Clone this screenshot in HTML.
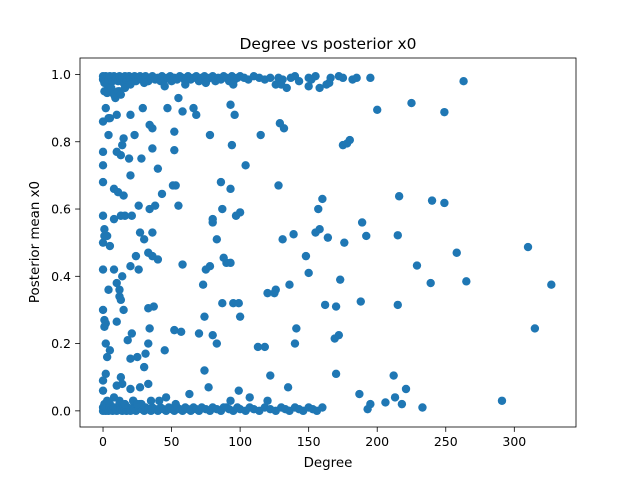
<!DOCTYPE html>
<html><head><meta charset="utf-8"><style>
body{margin:0;background:#fff}
svg{display:block;font-family:"DejaVu Sans","Liberation Sans",sans-serif}
</style></head><body>
<svg id="chart" width="640" height="480">
<rect width="640" height="480" fill="#fff"/>
<text x="328" y="49" text-anchor="middle" font-size="15.5">Degree vs posterior x0</text>
<text x="328" y="467" text-anchor="middle" font-size="13.4">Degree</text>
<text x="0" y="0" transform="translate(39,242) rotate(-90)" text-anchor="middle" font-size="13.4">Posterior mean x0</text>
<g id="pts"></g>
<g id="axes"></g>
</svg>
<script>
const xTicks=[0,50,100,150,200,250,300];
const yTicks=[0.0,0.2,0.4,0.6,0.8,1.0];
const yTickLabels=["0.0","0.2","0.4","0.6","0.8","1.0"];
const topX=[0,0,1,1,2,2,3,3,4,5,5,6,7,8,9,10,11,12,13,14,15,16,17,18,19,20,22,23,24,26,27,28,30,31,33,35,36,38,40,42,43,45,47,49,50,52,54,56,58,60,62,64,66,68,70,72,74,76,78,80,82,84,86,88,90,92,94,96,98,100,103,106,110,114,118,122,126,128,131,134,137,140,143,150,152,155,158,163,166,172,175,182,185,195,1,3,6,9,12,16,20,30,45,60,75,95,130,150,165,8,11,13];
const topY=[0.995,0.985,0.99,0.975,0.995,0.98,0.99,0.97,0.985,0.995,0.96,0.99,0.98,0.995,0.985,0.99,0.98,0.995,0.985,0.99,0.975,0.995,0.985,0.99,0.995,0.985,0.99,0.995,0.98,0.99,0.995,0.985,0.99,0.995,0.98,0.99,0.995,0.985,0.99,0.98,0.995,0.985,0.99,0.995,0.98,0.99,0.985,0.995,0.99,0.98,0.995,0.985,0.99,0.995,0.98,0.99,0.995,0.985,0.99,0.995,0.98,0.99,0.985,0.995,0.99,0.98,0.995,0.985,0.99,0.995,0.99,0.985,0.995,0.99,0.985,0.99,0.97,0.99,0.985,0.96,0.99,0.995,0.98,0.99,0.985,0.995,0.96,0.97,0.99,0.995,0.99,0.985,0.99,0.99,0.95,0.945,0.96,0.93,0.95,0.96,0.97,0.975,0.965,0.97,0.975,0.97,0.97,0.965,0.975,0.94,0.95,0.94];
const botX=[0,0,1,1,2,2,3,4,5,5,6,7,8,9,10,11,12,13,14,15,16,17,18,19,20,22,23,24,26,27,28,30,31,33,35,36,38,40,42,44,46,48,50,52,54,56,58,60,62,64,66,68,70,72,75,78,80,83,86,90,92,95,98,100,104,107,110,114,118,122,126,130,133,136,140,143,146,150,153,156,160,3,8,12,16,22,28,35];
const botY=[0.0,0.01,0.005,0.02,0.0,0.01,0.005,0.0,0.01,0.02,0.005,0.0,0.01,0.005,0.0,0.01,0.02,0.005,0.0,0.01,0.005,0.0,0.01,0.005,0.0,0.01,0.005,0.0,0.01,0.02,0.005,0.0,0.01,0.005,0.0,0.01,0.005,0.0,0.01,0.005,0.0,0.01,0.005,0.0,0.01,0.005,0.0,0.01,0.005,0.0,0.01,0.005,0.0,0.01,0.005,0.0,0.01,0.005,0.0,0.01,0.005,0.0,0.01,0.005,0.0,0.01,0.005,0.0,0.01,0.005,0.0,0.01,0.005,0.0,0.01,0.005,0.0,0.01,0.005,0.0,0.01,0.03,0.04,0.03,0.02,0.03,0.02,0.03];
const midX=[263,225,249,200,180,175,178,310,315,327,291,258,265,240,249,239,229,215,216,215,212,221,218,213,206,233,195,193,187,192,189,188,176,173,172,169,170,170,162,164,155,157,160,158,148,150,139,141,136,140,135,131,128,126,120,125,122,118,113,115,132,129,104,100,97,95,99,100,93,90,88,87,87,86,80,83,78,75,73,74,78,80,93,96,93,94,99,88,83,80,77,74,70,66,68,58,55,52,52,47,40,43,53,51,55,58,52,57,45,40,36,37,33,34,33,31,30,25,20,21,18,15,12,10,3,5,2,1,2,0,0,1,3,5,8,12,13,10,14,20,26,24,30,33,27,36,34,38,26,16,13,8,8,11,15,21,20,19,13,14,10,5,4,0,0,0,2,4,10,28,34,36,36,29,20,15,23,0,0,1,0,1,4,2,0,0,10,13,14,20,27,33,22,25,46,41,63,53,93,107,120];
const midY=[0.98,0.915,0.888,0.895,0.805,0.79,0.795,0.487,0.245,0.375,0.03,0.47,0.385,0.625,0.618,0.38,0.432,0.522,0.638,0.315,0.105,0.065,0.02,0.04,0.025,0.01,0.02,0.005,0.05,0.52,0.56,0.325,0.5,0.39,0.225,0.215,0.11,0.31,0.315,0.515,0.53,0.6,0.63,0.54,0.46,0.41,0.525,0.245,0.375,0.2,0.07,0.51,0.67,0.36,0.35,0.35,0.105,0.19,0.19,0.82,0.84,0.855,0.73,0.59,0.58,0.32,0.32,0.28,0.44,0.44,0.455,0.32,0.6,0.68,0.56,0.51,0.43,0.42,0.375,0.28,0.82,0.57,0.66,0.88,0.91,0.79,0.06,0.01,0.2,0.225,0.07,0.12,0.23,0.9,0.88,0.89,0.93,0.83,0.775,0.9,0.72,0.645,0.67,0.67,0.61,0.435,0.24,0.235,0.18,0.45,0.46,0.31,0.305,0.245,0.2,0.17,0.13,0.16,0.155,0.23,0.21,0.3,0.34,0.265,0.16,0.18,0.2,0.27,0.26,0.42,0.5,0.52,0.52,0.49,0.42,0.36,0.33,0.38,0.4,0.43,0.42,0.46,0.51,0.47,0.53,0.53,0.6,0.61,0.61,0.58,0.58,0.57,0.66,0.65,0.64,0.58,0.7,0.75,0.76,0.79,0.77,0.87,0.82,0.77,0.73,0.86,0.9,0.87,0.88,0.75,0.85,0.84,0.78,0.9,0.88,0.81,0.82,0.68,0.58,0.54,0.3,0.25,0.36,0.11,0.09,0.06,0.075,0.1,0.08,0.065,0.07,0.08,0.03,0.02,0.04,0.03,0.05,0.02,0.03,0.04,0.03];

const L=80,R=576,T=58,B=427;
const xMin=-16.8,xMax=345,yMin=-0.048,yMax=1.049;
const sx=v=>L+(v-xMin)/(xMax-xMin)*(R-L);
const sy=v=>B-(v-yMin)/(yMax-yMin)*(B-T);
const NS="http://www.w3.org/2000/svg";
const pts=document.getElementById('pts');
function draw(xs,ys){
  for(let i=0;i<xs.length;i++){
    const c=document.createElementNS(NS,'circle');
    c.setAttribute('cx',sx(xs[i]));c.setAttribute('cy',sy(ys[i]));
    c.setAttribute('r',4.2);c.setAttribute('fill','#1f77b4');
    
    
    pts.appendChild(c);
  }
}
draw(topX,topY);draw(botX,botY);draw(midX,midY);
const ax=document.getElementById('axes');
const fr=document.createElementNS(NS,'rect');
fr.setAttribute('x',L);fr.setAttribute('y',T);fr.setAttribute('width',R-L);fr.setAttribute('height',B-T);
fr.setAttribute('fill','none');fr.setAttribute('stroke','#000');fr.setAttribute('stroke-width','0.8');


ax.appendChild(fr);
xTicks.forEach(v=>{
  const x=sx(v);
  const l=document.createElementNS(NS,'line');
  l.setAttribute('x1',x);l.setAttribute('x2',x);l.setAttribute('y1',B);l.setAttribute('y2',B+4.9);l.setAttribute('stroke','#000');l.setAttribute('stroke-width','0.8');
  
  
  ax.appendChild(l);
  const t=document.createElementNS(NS,'text');
  t.setAttribute('x',x);t.setAttribute('y',B+19);t.setAttribute('text-anchor','middle');t.setAttribute('font-size','12.5');
  t.textContent=String(v);
  
  
  ax.appendChild(t);
});
yTicks.forEach((v,i)=>{
  const y=sy(v);
  const l=document.createElementNS(NS,'line');
  l.setAttribute('x1',L-4.9);l.setAttribute('x2',L);l.setAttribute('y1',y);l.setAttribute('y2',y);l.setAttribute('stroke','#000');l.setAttribute('stroke-width','0.8');
  
  
  ax.appendChild(l);
  const t=document.createElementNS(NS,'text');
  t.setAttribute('x',L-9);t.setAttribute('y',y+4.5);t.setAttribute('text-anchor','end');t.setAttribute('font-size','12.5');
  t.textContent=yTickLabels[i];
  
  
  ax.appendChild(t);
});
</script>
</body></html>
